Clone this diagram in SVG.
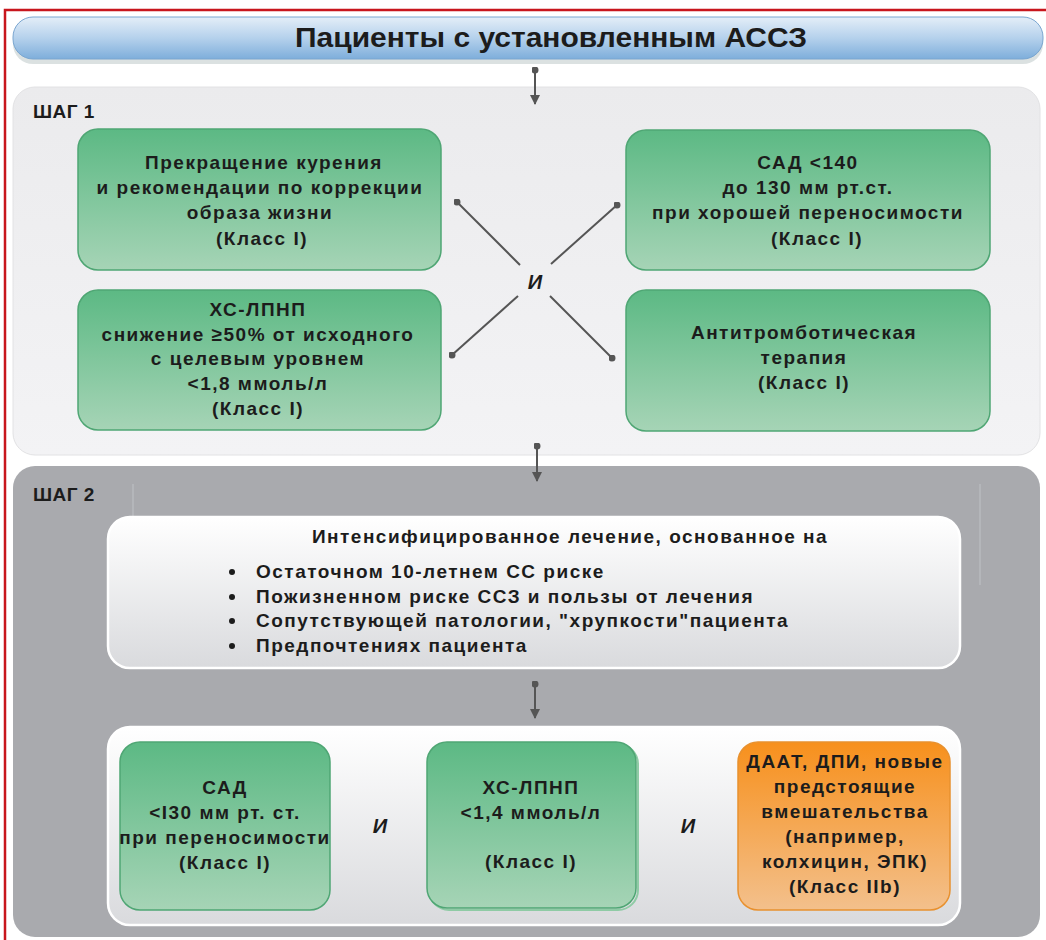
<svg xmlns="http://www.w3.org/2000/svg" width="1046" height="940" viewBox="0 0 1046 940">
<defs>
<linearGradient id="gTitle" x1="0" y1="0" x2="0" y2="1">
<stop offset="0" stop-color="#e4eef8"/><stop offset="0.5" stop-color="#b5d1ec"/><stop offset="1" stop-color="#7eaedb"/>
</linearGradient>
<linearGradient id="gGreen" x1="0" y1="0" x2="0" y2="1">
<stop offset="0" stop-color="#5cb984"/><stop offset="1" stop-color="#a6d4b6"/>
</linearGradient>
<linearGradient id="gOrange" x1="0" y1="0" x2="0" y2="1">
<stop offset="0" stop-color="#f7901c"/><stop offset="1" stop-color="#f3c08c"/>
</linearGradient>
<linearGradient id="gWhite" x1="0" y1="0" x2="0" y2="1">
<stop offset="0" stop-color="#ffffff"/><stop offset="1" stop-color="#d9dadd"/>
</linearGradient>
<linearGradient id="gStep1" x1="0" y1="0" x2="0" y2="1">
<stop offset="0" stop-color="#ebebed"/><stop offset="1" stop-color="#f3f3f5"/>
</linearGradient>
<marker id="arr" viewBox="0 0 10 10" refX="9" refY="5" markerWidth="5" markerHeight="5" orient="auto">
<path d="M0,0 L10,5 L0,10 z" fill="#555"/>
</marker>
<marker id="dot" viewBox="0 0 10 10" refX="5" refY="5" markerWidth="3.5" markerHeight="3.5">
<circle cx="5" cy="5" r="5" fill="#555"/>
</marker>
</defs>
<style>
text{font-family:"Liberation Sans",Arial,sans-serif;font-weight:bold;fill:#1c1c1c;}
.c{text-anchor:middle;font-size:19px;letter-spacing:1.5px;}
.b{font-size:19px;letter-spacing:1.5px;}
.step{font-size:19px;letter-spacing:0.5px;}
.and{font-size:20px;font-style:italic;text-anchor:middle;}
.green{fill:url(#gGreen);stroke:#4fa674;stroke-width:1.5;}
.orange{fill:url(#gOrange);stroke:#e8912f;stroke-width:1.5;}
.white{fill:url(#gWhite);stroke:#ffffff;stroke-width:2.5;}
.conn{stroke:#555;stroke-width:2;fill:none;}
</style>
<rect x="0" y="0" width="1046" height="940" fill="#ffffff"/>
<!-- red frame -->
<path d="M5,940 V10 H1046" fill="none" stroke="#c8161d" stroke-width="2.5"/>

<g id="title">
<rect x="13" y="19" width="1030" height="42" rx="20" fill="#9aa" opacity="0.35" transform="translate(0,3)"/>
<rect x="13" y="17" width="1030" height="42" rx="20" fill="url(#gTitle)" stroke="#7aa6d0" stroke-width="1"/>
<text x="551" y="47" text-anchor="middle" font-size="28" textLength="512" lengthAdjust="spacingAndGlyphs">Пациенты с установленным АССЗ</text>
</g>

<g id="step1">
<rect x="13" y="87" width="1027" height="368" rx="22" fill="url(#gStep1)" stroke="#e2e2e4" stroke-width="1"/>
<text class="step" x="33" y="118">ШАГ 1</text>
</g>

<g id="step2">
<rect x="13" y="466" width="1027" height="471" rx="22" fill="#a9aaae"/>
<line x1="133" y1="484" x2="133" y2="518" stroke="#b9babe" stroke-width="1.5"/>
<line x1="980" y1="484" x2="980" y2="585" stroke="#b9babe" stroke-width="1.5"/>
<text class="step" x="33" y="501">ШАГ 2</text>
</g>

<g id="box-smoking">
<rect class="green" x="78" y="129" width="363" height="141" rx="20"/>
<text class="c" x="264" y="169">Прекращение курения</text>
<text class="c" x="260" y="194">и рекомендации по коррекции</text>
<text class="c" x="260" y="219">образа жизни</text>
<text class="c" x="262" y="245">(Класс I)</text>
</g>

<g id="box-sad140">
<rect class="green" x="626" y="130" width="364" height="140" rx="20"/>
<text class="c" x="808" y="169">САД &lt;140</text>
<text class="c" x="808" y="194">до 130 мм рт.ст.</text>
<text class="c" x="808" y="219">при хорошей переносимости</text>
<text class="c" x="817" y="245">(Класс I)</text>
</g>

<g id="box-ldl1">
<rect class="green" x="78" y="290" width="363" height="140" rx="20"/>
<text class="c" x="258" y="316">ХС-ЛПНП</text>
<text class="c" x="258" y="341">снижение ≥50% от исходного</text>
<text class="c" x="258" y="365">с целевым уровнем</text>
<text class="c" x="258" y="390">&lt;1,8 ммоль/л</text>
<text class="c" x="258" y="415">(Класс I)</text>
</g>

<g id="box-antithrombotic">
<rect class="green" x="626" y="290" width="364" height="141" rx="20"/>
<text class="c" x="804" y="339">Антитромботическая</text>
<text class="c" x="804" y="364">терапия</text>
<text class="c" x="804" y="389">(Класс I)</text>
</g>

<g id="and1"><text class="and" x="535" y="289">И</text></g>

<g id="box-intensified">
<rect class="white" x="108" y="517" width="852" height="151" rx="22"/>
<text class="b" x="570" y="543" text-anchor="middle">Интенсифицированное лечение, основанное на</text>
<circle cx="232" cy="572" r="3" fill="#1c1c1c"/>
<circle cx="232" cy="597" r="3" fill="#1c1c1c"/>
<circle cx="232" cy="621" r="3" fill="#1c1c1c"/>
<circle cx="232" cy="646" r="3" fill="#1c1c1c"/>
<text class="b" x="256" y="578">Остаточном 10-летнем СС риске</text>
<text class="b" x="256" y="603">Пожизненном риске ССЗ и пользы от лечения</text>
<text class="b" x="256" y="627">Сопутствующей патологии, "хрупкости"пациента</text>
<text class="b" x="256" y="652">Предпочтениях пациента</text>
</g>

<g id="targets">
<rect class="white" x="108" y="727" width="852" height="198" rx="22"/>
</g>

<g id="box-sad130">
<rect class="green" x="120" y="742" width="210" height="168" rx="20"/>
<text class="c" x="225" y="794">САД</text>
<text class="c" x="225" y="819">&lt;I30 мм рт. ст.</text>
<text class="c" x="225" y="844">при переносимости</text>
<text class="c" x="225" y="869">(Класс I)</text>
</g>

<g id="box-ldl2">
<rect x="429" y="744" width="209" height="166" rx="20" fill="none" stroke="#8fcba5" stroke-width="2"/>
<rect class="green" x="427" y="742" width="209" height="166" rx="20"/>
<text class="c" x="531" y="794">ХС-ЛПНП</text>
<text class="c" x="531" y="819">&lt;1,4 ммоль/л</text>
<text class="c" x="531" y="868">(Класс I)</text>
</g>

<g id="box-daat">
<rect class="orange" x="738" y="742" width="212" height="168" rx="20"/>
<text class="c" x="845" y="768">ДААТ, ДПИ, новые</text>
<text class="c" x="845" y="793">предстоящие</text>
<text class="c" x="845" y="818">вмешательства</text>
<text class="c" x="845" y="843">(например,</text>
<text class="c" x="845" y="868">колхицин, ЭПК)</text>
<text class="c" x="845" y="893">(Класс IIb)</text>
</g>

<g id="and2"><text class="and" x="380" y="833">И</text></g>
<g id="and3"><text class="and" x="688" y="833">И</text></g>

<g id="connectors">
<line class="conn" x1="535" y1="70" x2="535" y2="104" marker-start="url(#dot)" marker-end="url(#arr)"/>
<line class="conn" x1="537" y1="446" x2="537" y2="481" marker-start="url(#dot)" marker-end="url(#arr)"/>
<line class="conn" x1="535" y1="684" x2="535" y2="718" marker-start="url(#dot)" marker-end="url(#arr)"/>
<line class="conn" x1="457" y1="202" x2="520" y2="265" marker-start="url(#dot)"/>
<line class="conn" x1="617" y1="205" x2="551" y2="264" marker-start="url(#dot)"/>
<line class="conn" x1="452" y1="355" x2="518" y2="296" marker-start="url(#dot)"/>
<line class="conn" x1="612" y1="358" x2="550" y2="296" marker-start="url(#dot)"/>
</g>
</svg>
